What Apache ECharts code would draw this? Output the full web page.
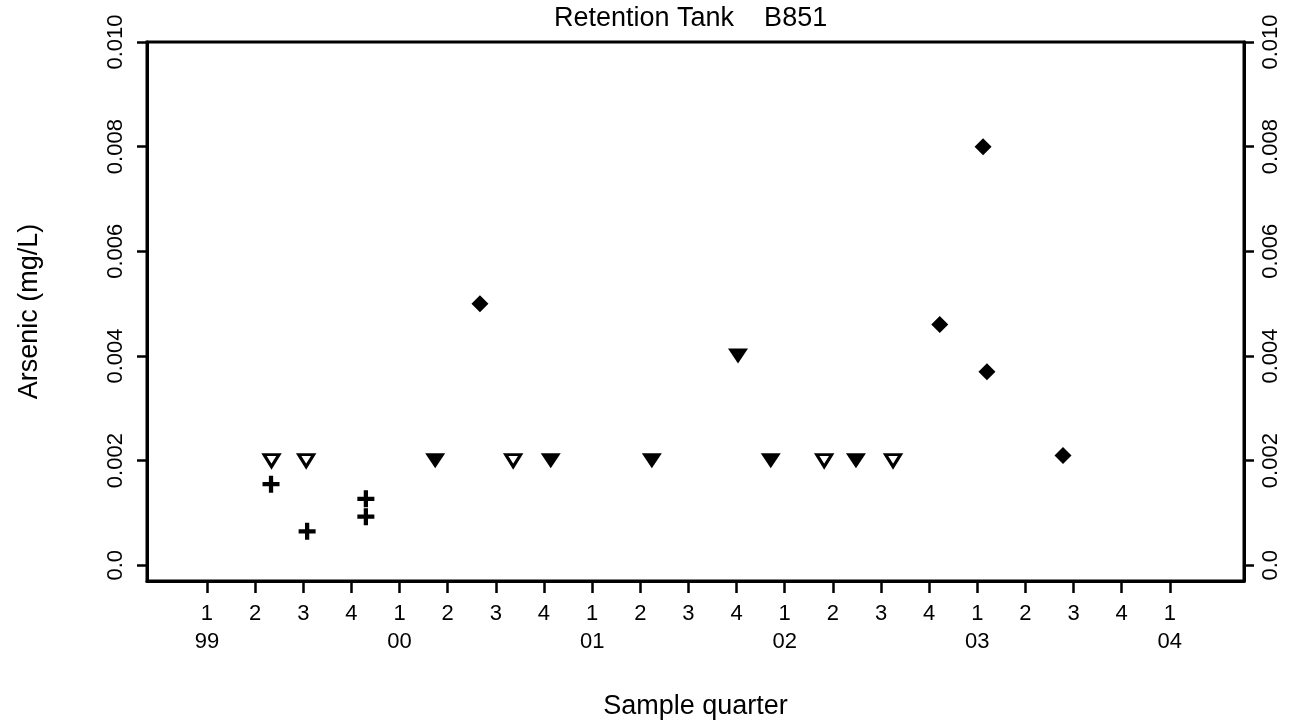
<!DOCTYPE html>
<html>
<head>
<meta charset="utf-8">
<script src="https://cdn.jsdelivr.net/npm/echarts@6/dist/echarts.min.js"></script>
<style>
html,body{margin:0;padding:0;background:#fff;}
#chart{width:1292px;height:725px;}
</style>
</head>
<body>
<div id="chart"></div>
<script>
// Quarter index: 0 = 1999 Q1, 1 = 1999 Q2, ... 20 = 2004 Q1
const quarterTicks = [0,1,2,3,4,5,6,7,8,9,10,11,12,13,14,15,16,17,18,19,20];
const quarterLabels = ['1','2','3','4','1','2','3','4','1','2','3','4','1','2','3','4','1','2','3','4','1'];
const yearLabels = ['99','','','','00','','','','01','','','','02','','','','03','','','','04'];

const yTicks = [0, 0.002, 0.004, 0.006, 0.008, 0.010];
const yTickLabels = ['0.0', '0.002', '0.004', '0.006', '0.008', '0.010'];

// Open (hollow) down-triangles
const openTriX = [1.34, 2.06, 6.36, 12.82, 14.25];
const openTriY = [0.002, 0.002, 0.002, 0.002, 0.002];
// Filled down-triangles
const filledTriX = [4.74, 7.14, 9.24, 11.03, 11.71, 13.48];
const filledTriY = [0.002, 0.002, 0.002, 0.004, 0.002, 0.002];
// Plus signs
const plusX = [1.33, 2.08, 3.30, 3.30];
const plusY = [0.00155, 0.00065, 0.00127, 0.00093];
// Filled diamonds
const diamondX = [5.67, 15.22, 16.12, 16.20, 17.78];
const diamondY = [0.0050, 0.0046, 0.0080, 0.0037, 0.0021];

const FONT = 'Liberation Sans';
const pairs = (xs, ys) => xs.map((x, i) => [x, ys[i]]);

const chart = echarts.init(document.getElementById('chart'), null, {renderer: 'canvas'});

function yAxisDef(pos, margin) {
  return {
    type: 'value',
    position: pos,
    min: -0.0003,
    max: 0.010,
    axisLine: {show: true, onZero: false, lineStyle: {color: '#000', width: 3}},
    axisTick: {show: true, length: 10, customValues: yTicks, lineStyle: {color: '#000', width: 2.5}},
    axisLabel: {
      show: true, rotate: 90, margin: margin, fontSize: 22, color: '#000', fontFamily: FONT,
      customValues: yTicks,
      formatter: function (v) {
        let idx = -1;
        yTicks.forEach((t, i) => { if (Math.abs(t - v) < 1e-9) idx = i; });
        return idx >= 0 ? yTickLabels[idx] : '';
      }
    },
    splitLine: {show: false}
  };
}

const left = yAxisDef('left', 20);
left.name = 'Arsenic (mg/L)';
left.nameLocation = 'middle';
left.nameRotate = 90;
left.nameGap = 104;
left.nameTextStyle = {fontSize: 27, color: '#000', fontFamily: FONT};
const right = yAxisDef('right', 16);

chart.setOption({
  backgroundColor: '#fff',
  animation: false,
  title: {
    text: 'Retention Tank    B851',
    left: 549, top: 0,
    textStyle: {fontSize: 27, fontWeight: 'normal', color: '#000', fontFamily: FONT}
  },
  grid: {left: 147, right: 48, top: 42, bottom: 140, show: true, borderColor: '#000', borderWidth: 3, containLabel: false},
  xAxis: {
    type: 'value',
    min: -1.246,
    max: 21.54,
    name: 'Sample quarter',
    nameLocation: 'middle',
    nameGap: 112,
    nameTextStyle: {fontSize: 27, color: '#000', fontFamily: FONT},
    axisLine: {show: true, onZero: false, lineStyle: {color: '#000', width: 3}},
    axisTick: {show: true, length: 12, customValues: quarterTicks, lineStyle: {color: '#000', width: 2.5}},
    axisLabel: {
      show: true, margin: 19, fontSize: 22, lineHeight: 28, color: '#000', fontFamily: FONT,
      customValues: quarterTicks,
      formatter: function (v) {
        const i = Math.round(v);
        const q = quarterLabels[i];
        const y = yearLabels[i];
        return y ? q + '\n' + y : q;
      }
    },
    splitLine: {show: false}
  },
  yAxis: [left, right],
  series: [
    {
      name: 'Open triangle', type: 'scatter', data: pairs(openTriX, openTriY),
      symbol: 'triangle', symbolRotate: 180, symbolSize: [15, 12],
      itemStyle: {color: '#fff', borderColor: '#000', borderWidth: 3, opacity: 1},
      emphasis: {disabled: true}
    },
    {
      name: 'Filled triangle', type: 'scatter', data: pairs(filledTriX, filledTriY),
      symbol: 'triangle', symbolRotate: 180, symbolSize: [20, 15],
      itemStyle: {color: '#000', opacity: 1},
      emphasis: {disabled: true}
    },
    {
      name: 'Plus', type: 'scatter', data: pairs(plusX, plusY),
      symbol: 'path://M6,0H10V6H16V10H10V16H6V10H0V6H6Z', symbolSize: 17,
      itemStyle: {color: '#000', opacity: 1},
      emphasis: {disabled: true}
    },
    {
      name: 'Diamond', type: 'scatter', data: pairs(diamondX, diamondY),
      symbol: 'diamond', symbolSize: 17,
      itemStyle: {color: '#000', opacity: 1},
      emphasis: {disabled: true}
    }
  ]
});
</script>
</body>
</html>
